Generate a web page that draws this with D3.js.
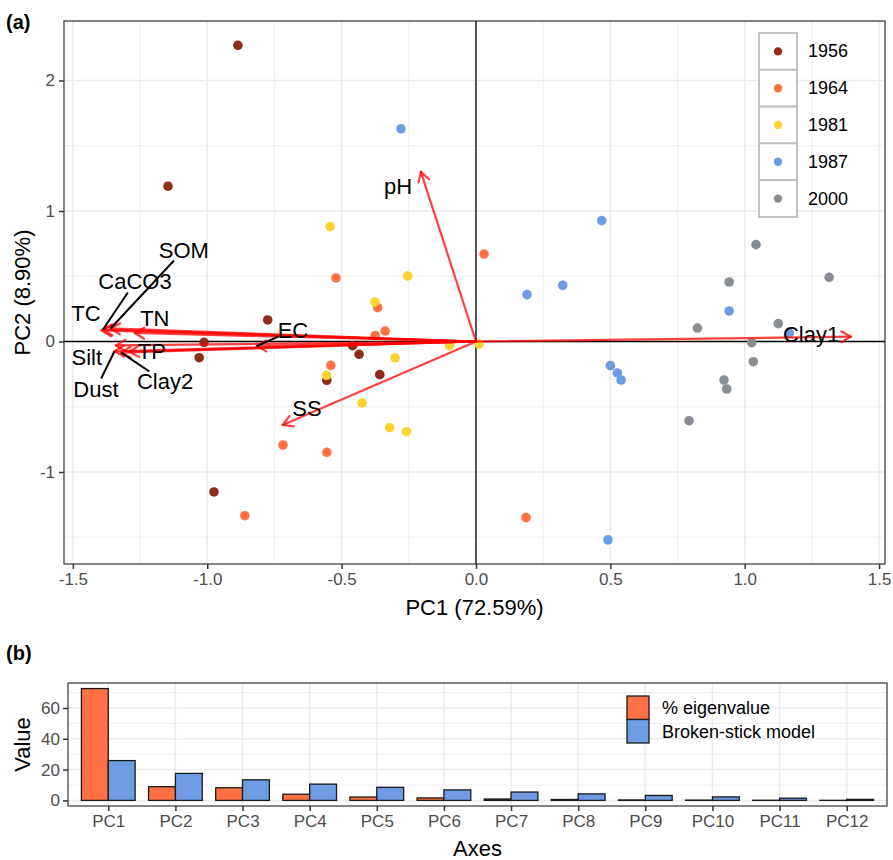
<!DOCTYPE html>
<html>
<head>
<meta charset="utf-8">
<script src="https://cdn.jsdelivr.net/npm/d3@7"></script>
<style>
  body { margin: 0; background: #fff; }
  svg { font-family: "Liberation Sans", Arial, Helvetica, sans-serif; }
</style>
</head>
<body>
<svg id="fig" width="893" height="860"></svg>
<script>
// ---- data: PCA scores by year ----
const years = ["1956", "1964", "1981", "1987", "2000"]
const yearColors = ["#8f2d1c", "#ff7043", "#fdd232", "#6e9be2", "#898e95"]

const scores1956 = [[-0.886, 2.27], [-1.146, 1.19], [-0.775, 0.165], [-1.012, -0.006], [-1.03, -0.124],
  [-0.459, -0.032], [-0.435, -0.098], [-0.358, -0.254], [-0.555, -0.297], [-0.975, -1.153]]
const scores1964 = [[0.03, 0.67], [-0.521, 0.487], [-0.366, 0.259], [-0.338, 0.08], [-0.375, 0.045],
  [-0.54, -0.183], [-0.718, -0.793], [-0.555, -0.849], [-0.86, -1.335], [0.186, -1.35]]
const scores1981 = [[-0.543, 0.88], [-0.254, 0.502], [-0.376, 0.303], [-0.098, -0.032], [0.012, -0.019],
  [-0.301, -0.126], [-0.556, -0.259], [-0.424, -0.471], [-0.321, -0.66], [-0.259, -0.691]]
const scores1987 = [[-0.279, 1.63], [0.468, 0.926], [0.19, 0.359], [0.323, 0.431], [0.942, 0.234],
  [1.166, 0.063], [0.5, -0.185], [0.526, -0.241], [0.54, -0.295], [0.491, -1.52]]
const scores2000 = [[1.042, 0.742], [0.942, 0.456], [1.314, 0.492], [0.824, 0.103], [1.125, 0.137],
  [1.026, -0.009], [1.032, -0.155], [0.923, -0.295], [0.933, -0.364], [0.793, -0.607]]
const scoresByYear = [scores1956, scores1964, scores1981, scores1987, scores2000]

// ---- data: variable loadings (arrow tips) and label anchors ----
const varNames = ["TC", "CaCO3", "SOM", "TN", "Silt", "TP", "Dust", "Clay2", "EC", "pH", "SS", "Clay1"]
const loadPC1 = [-1.393, -1.388, -1.36, -1.27, -1.34, -1.29, -1.345, -1.32, -0.816, -0.205, -0.719, 1.395]
const loadPC2 = [0.085, 0.092, 0.1, 0.065, -0.03, -0.078, -0.075, -0.085, -0.035, 1.30, -0.64, 0.037]
const labelPC1 = [-1.451, -1.269, -1.087, -1.195, -1.448, -1.206, -1.414, -1.157, -0.681, -0.29, -0.629, 1.247]
const labelPC2 = [0.211, 0.456, 0.701, 0.18, -0.119, -0.073, -0.364, -0.31, 0.088, 1.184, -0.517, 0.057]

// ---- data: eigenvalues vs broken-stick ----
const pcNames = ["PC1", "PC2", "PC3", "PC4", "PC5", "PC6", "PC7", "PC8", "PC9", "PC10", "PC11", "PC12"]
const eigenPct = [72.59, 8.9, 8.2, 4.0, 2.2, 1.6, 0.9, 0.6, 0.3, 0.2, 0.1, 0.05]
const brokenStick = [25.86, 17.53, 13.36, 10.58, 8.5, 6.83, 5.44, 4.25, 3.21, 2.28, 1.45, 0.69]
const barSeries = ["% eigenvalue", "Broken-stick model"]
const barColors = ["#ff7043", "#6e9be2"]

const svg = d3.select("#fig")
const gridCol = "#ebebeb"
const tickCol = "#4d4d4d"

// ================= panel (a): biplot =================
const A = {left: 64, right: 885, top: 21, bottom: 564}
const x = d3.scaleLinear().domain([-1.533, 1.522]).range([A.left, A.right])
const y = d3.scaleLinear().domain([-1.705, 2.456]).range([A.bottom, A.top])

const ga = svg.append("g")
ga.append("rect").attr("x", A.left).attr("y", A.top)
  .attr("width", A.right - A.left).attr("height", A.bottom - A.top).attr("fill", "#fff")

const xMajor = [-1.5, -1, -0.5, 0, 0.5, 1, 1.5]
const xMinor = [-1.25, -0.75, -0.25, 0.25, 0.75, 1.25]
const yMajor = [-1, 0, 1, 2]
const yMinor = [-1.5, -0.5, 0.5, 1.5]

ga.selectAll(".xmin").data(xMinor).join("line")
  .attr("x1", d => x(d)).attr("x2", d => x(d)).attr("y1", A.top).attr("y2", A.bottom)
  .attr("stroke", gridCol).attr("stroke-width", 0.8)
ga.selectAll(".ymin").data(yMinor).join("line")
  .attr("y1", d => y(d)).attr("y2", d => y(d)).attr("x1", A.left).attr("x2", A.right)
  .attr("stroke", gridCol).attr("stroke-width", 0.8)
ga.selectAll(".xmaj").data(xMajor).join("line")
  .attr("x1", d => x(d)).attr("x2", d => x(d)).attr("y1", A.top).attr("y2", A.bottom)
  .attr("stroke", gridCol).attr("stroke-width", 1.5)
ga.selectAll(".ymaj").data(yMajor).join("line")
  .attr("y1", d => y(d)).attr("y2", d => y(d)).attr("x1", A.left).attr("x2", A.right)
  .attr("stroke", gridCol).attr("stroke-width", 1.5)

// reference lines through origin
ga.append("line").attr("x1", x(0)).attr("x2", x(0)).attr("y1", A.top).attr("y2", A.bottom)
  .attr("stroke", "#000").attr("stroke-width", 1.3)
ga.append("line").attr("y1", y(0)).attr("y2", y(0)).attr("x1", A.left).attr("x2", A.right)
  .attr("stroke", "#000").attr("stroke-width", 1.3)

// points
scoresByYear.forEach((pts, i) => {
  ga.append("g").selectAll("circle").data(pts).join("circle")
    .attr("cx", d => x(d[0])).attr("cy", d => y(d[1])).attr("r", 4.8)
    .attr("fill", yearColors[i])
})

// arrows
const loadings = varNames.map((n, i) => ({name: n, pc1: loadPC1[i], pc2: loadPC2[i], lx: labelPC1[i], ly: labelPC2[i]}))
const arrows = ga.append("g").attr("stroke", "red").attr("stroke-opacity", 0.75)
  .attr("stroke-width", 2.2).attr("fill", "none").attr("stroke-linecap", "round")
loadings.forEach(d => {
  const x0 = x(0), y0 = y(0), x1 = x(d.pc1), y1 = y(d.pc2)
  const ang = Math.atan2(y1 - y0, x1 - x0)
  const hl = 11, ha = Math.PI / 6
  arrows.append("line").attr("x1", x0).attr("y1", y0).attr("x2", x1).attr("y2", y1)
  arrows.append("path").attr("stroke-linejoin", "round")
    .attr("d", `M${x1 - hl * Math.cos(ang - ha)},${y1 - hl * Math.sin(ang - ha)}L${x1},${y1}L${x1 - hl * Math.cos(ang + ha)},${y1 - hl * Math.sin(ang + ha)}`)
})

// labels with leader segments where far from tip
const labG = ga.append("g")
loadings.forEach(d => {
  const t = labG.append("text").attr("x", x(d.lx)).attr("y", y(d.ly))
    .attr("text-anchor", "middle").attr("dominant-baseline", "central")
    .attr("font-size", 22).attr("fill", "#000").text(d.name)
  const bb = t.node().getBBox()
  const cx = bb.x + bb.width / 2, cy = bb.y + bb.height / 2
  const tx = x(d.pc1), ty = y(d.pc2)
  const dx = tx - cx, dy = ty - cy
  const s = Math.min((bb.width / 2 - 1) / Math.abs(dx || 1e-9), (bb.height / 2 - 2) / Math.abs(dy || 1e-9))
  const ex = cx + s * dx, ey = cy + s * dy
  if (s < 1 && Math.hypot(tx - ex, ty - ey) > 20) {
    labG.insert("line", "text").attr("x1", ex).attr("y1", ey).attr("x2", tx).attr("y2", ty)
      .attr("stroke", "#000").attr("stroke-width", 2)
  }
})

// panel border
ga.append("rect").attr("x", A.left).attr("y", A.top)
  .attr("width", A.right - A.left).attr("height", A.bottom - A.top)
  .attr("fill", "none").attr("stroke", "#333").attr("stroke-width", 1.2)

// axes
const xAxisA = ga.append("g").attr("transform", `translate(0,${A.bottom})`)
  .call(d3.axisBottom(x).tickValues(xMajor).tickFormat(d3.format(".1f")).tickSize(5).tickPadding(4))
const yAxisA = ga.append("g").attr("transform", `translate(${A.left},0)`)
  .call(d3.axisLeft(y).tickValues(yMajor).tickFormat(d3.format("d")).tickSize(5).tickPadding(4))
;[xAxisA, yAxisA].forEach(g => {
  g.select(".domain").remove()
  g.selectAll(".tick line").attr("stroke", "#333").attr("stroke-width", 1.5)
  g.selectAll(".tick text").attr("fill", tickCol).attr("font-size", 17)
    .attr("font-family", "Liberation Sans, Arial, sans-serif")
})
xAxisA.selectAll(".tick text").text(d => d3.format(".1f")(d).replace("−", "-"))
yAxisA.selectAll(".tick text").text(d => String(d).replace("−", "-"))

ga.append("text").attr("x", (A.left + A.right) / 2).attr("y", 615)
  .attr("text-anchor", "middle").attr("font-size", 22).text("PC1 (72.59%)")
ga.append("text").attr("transform", `translate(30,${(A.top + A.bottom) / 2}) rotate(-90)`)
  .attr("text-anchor", "middle").attr("font-size", 22).text("PC2 (8.90%)")

// legend (a)
const legA = ga.append("g").attr("transform", "translate(759,33)")
const keyH = 36.8
years.forEach((yr, i) => {
  legA.append("rect").attr("x", 0).attr("y", i * keyH).attr("width", 38).attr("height", keyH)
    .attr("fill", "#fff").attr("stroke", "#bdbdbd").attr("stroke-width", 1.8)
  legA.append("circle").attr("cx", 19).attr("cy", i * keyH + keyH / 2).attr("r", 4.2).attr("fill", yearColors[i])
  legA.append("text").attr("x", 49).attr("y", i * keyH + keyH / 2).attr("dominant-baseline", "central")
    .attr("font-size", 18).attr("fill", "#000").text(yr)
})

svg.append("text").attr("x", 6).attr("y", 29).attr("font-size", 20).attr("font-weight", "bold").text("(a)")

// ================= panel (b): eigenvalue bars =================
const B = {left: 68, right: 887, top: 683, bottom: 806}
const xb = d3.scalePoint().domain(pcNames).range([B.left, B.right]).padding(0.6)
const yb = d3.scaleLinear().domain([-3.63, 76.22]).range([B.bottom, B.top])
const gb = svg.append("g")
gb.append("rect").attr("x", B.left).attr("y", B.top)
  .attr("width", B.right - B.left).attr("height", B.bottom - B.top).attr("fill", "#fff")

const ybMajor = [0, 20, 40, 60]
const ybMinor = [10, 30, 50, 70]
gb.selectAll(".ymin").data(ybMinor).join("line")
  .attr("y1", d => yb(d)).attr("y2", d => yb(d)).attr("x1", B.left).attr("x2", B.right)
  .attr("stroke", gridCol).attr("stroke-width", 0.8)
gb.selectAll(".ymaj").data(ybMajor).join("line")
  .attr("y1", d => yb(d)).attr("y2", d => yb(d)).attr("x1", B.left).attr("x2", B.right)
  .attr("stroke", gridCol).attr("stroke-width", 1.5)
gb.selectAll(".xmaj").data(pcNames).join("line")
  .attr("x1", d => xb(d)).attr("x2", d => xb(d)).attr("y1", B.top).attr("y2", B.bottom)
  .attr("stroke", gridCol).attr("stroke-width", 1.5)

const barW = xb.step() * 0.8 / 2
const barData = pcNames.map((pc, i) => [eigenPct[i], brokenStick[i]])
pcNames.forEach((pc, i) => {
  barData[i].forEach((v, j) => {
    gb.append("rect")
      .attr("x", xb(pc) - barW + j * barW).attr("width", barW)
      .attr("y", yb(v)).attr("height", yb(0) - yb(v))
      .attr("fill", barColors[j]).attr("stroke", "#1a1a1a").attr("stroke-width", 1.3)
  })
})

gb.append("rect").attr("x", B.left).attr("y", B.top)
  .attr("width", B.right - B.left).attr("height", B.bottom - B.top)
  .attr("fill", "none").attr("stroke", "#333").attr("stroke-width", 1.2)

const xAxisB = gb.append("g").attr("transform", `translate(0,${B.bottom})`)
  .call(d3.axisBottom(xb).tickSize(5).tickPadding(4))
const yAxisB = gb.append("g").attr("transform", `translate(${B.left},0)`)
  .call(d3.axisLeft(yb).tickValues(ybMajor).tickSize(5).tickPadding(3))
;[xAxisB, yAxisB].forEach(g => {
  g.select(".domain").remove()
  g.selectAll(".tick line").attr("stroke", "#333").attr("stroke-width", 1.5)
  g.selectAll(".tick text").attr("fill", tickCol).attr("font-size", 17)
    .attr("font-family", "Liberation Sans, Arial, sans-serif")
})

gb.append("text").attr("x", (B.left + B.right) / 2).attr("y", 856)
  .attr("text-anchor", "middle").attr("font-size", 22).text("Axes")
gb.append("text").attr("transform", `translate(30,${(B.top + B.bottom) / 2}) rotate(-90)`)
  .attr("text-anchor", "middle").attr("font-size", 22).text("Value")

// legend (b)
const legB = gb.append("g").attr("transform", "translate(627,696)")
barSeries.forEach((s, i) => {
  legB.append("rect").attr("x", 0).attr("y", i * 23.5).attr("width", 22).attr("height", 23.5)
    .attr("fill", barColors[i]).attr("stroke", "#1a1a1a").attr("stroke-width", 1.3)
  legB.append("text").attr("x", 35).attr("y", i * 23.5 + 12).attr("dominant-baseline", "central")
    .attr("font-size", 18).text(s)
})

svg.append("text").attr("x", 6).attr("y", 660).attr("font-size", 20).attr("font-weight", "bold").text("(b)")
</script>
</body>
</html>
